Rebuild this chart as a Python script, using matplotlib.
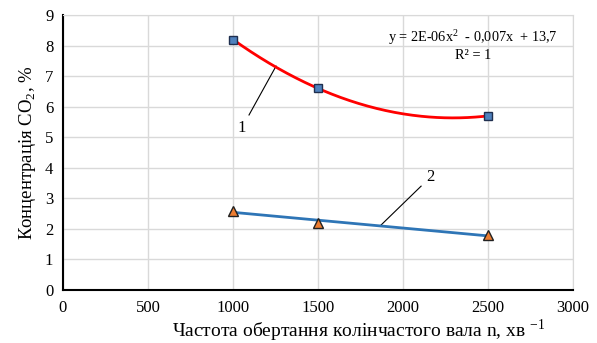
import numpy as np
import matplotlib
matplotlib.use('Agg')
import matplotlib.pyplot as plt

plt.rcParams['font.family'] = ['Liberation Serif', 'DejaVu Serif']
plt.rcParams['mathtext.fontset'] = 'custom'
plt.rcParams['mathtext.rm'] = 'Liberation Serif'

n_rpm = [1000, 1500, 2500]
co2_1 = [8.2, 6.6, 5.7]
co2_2 = [2.6, 2.2, 1.8]

fig = plt.figure(figsize=(5.97, 3.43), dpi=100)
ax = fig.add_subplot(111)
fig.subplots_adjust(left=0.1055, right=0.96, top=0.956, bottom=0.1545)

# trend lines (quadratic for series 1, linear for series 2)
xs = np.linspace(1000, 2500, 200)
p1 = np.polyfit(n_rpm, co2_1, 2)
p2 = np.polyfit(n_rpm, co2_2, 1)
ax.plot(xs, np.polyval(p1, xs), color='#FF0000', lw=2, zorder=3)
ax.plot(xs, np.polyval(p2, xs), color='#2E75B6', lw=2, zorder=3)

ax.plot(n_rpm, co2_1, ls='none', marker='s', ms=6, mfc='#4F81BD',
        mec='#1F2F4F', mew=1, zorder=4)
ax.plot(n_rpm, co2_2, ls='none', marker='^', ms=7, mfc='#ED7D31',
        mec='#222222', mew=1, zorder=4)

ax.set_xlim(0, 3000)
ax.set_ylim(0, 9)
ax.set_xticks(range(0, 3001, 500))
ax.set_yticks(range(0, 10))
ax.grid(True, color='#D9D9D9', lw=1)
ax.set_axisbelow(True)
for s in ['top', 'right']:
    ax.spines[s].set_color('#D9D9D9')
for s in ['left', 'bottom']:
    ax.spines[s].set_color('black')
    ax.spines[s].set_linewidth(1.5)
ax.tick_params(length=0, labelsize=12, pad=7)

ax.set_xlabel('Частота обертання колінчастого вала n, хв $^{-1}$', fontsize=14)
ax.xaxis.set_label_coords(0.58, -0.1)
ax.xaxis.label.set_va('top')
ax.set_ylabel('Концентрація CO$_2$, %', fontsize=13.5, labelpad=5)

ax.text(2412, 8.28, 'y = 2E-06x$^2$  - 0,007x  + 13,7', ha='center', va='center', fontsize=10.3)
ax.text(2412, 7.68, 'R² = 1', ha='center', va='center', fontsize=10.3)

ax.plot([1094, 1253], [5.73, 7.33], color='black', lw=0.8)
ax.text(1053, 5.3, '1', ha='center', va='center', fontsize=12)
ax.plot([2106, 1871], [3.4, 2.13], color='black', lw=0.8)
ax.text(2159, 3.7, '2', ha='center', va='center', fontsize=12)

fig.savefig('out.png', dpi=100)
